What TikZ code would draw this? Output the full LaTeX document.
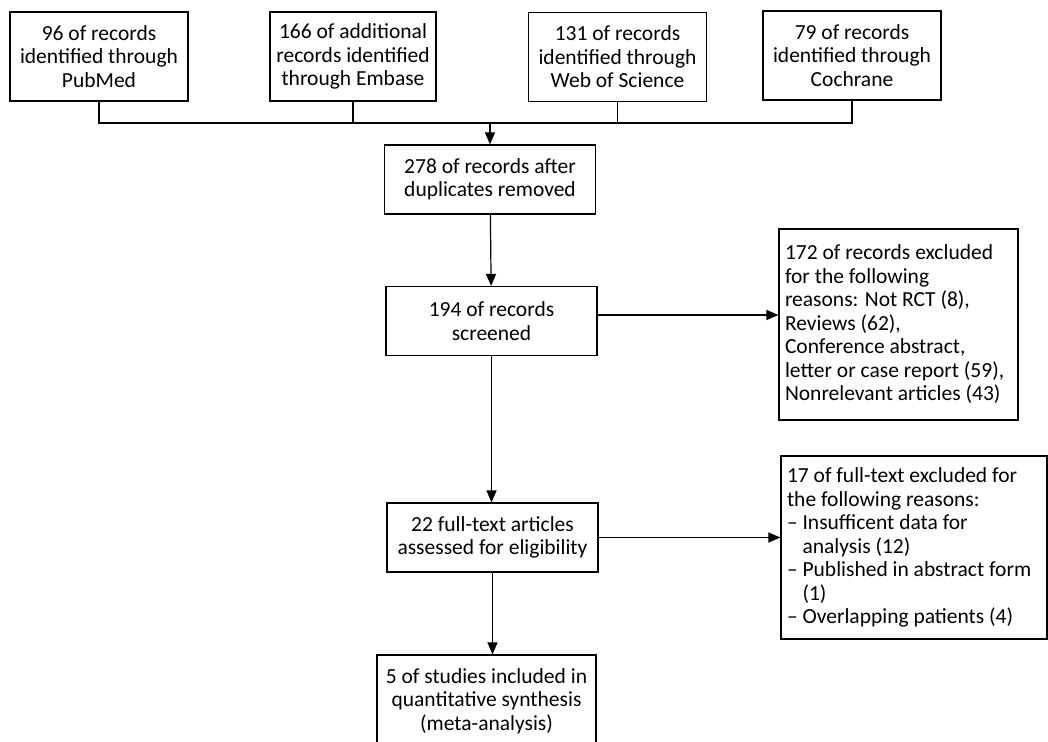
\documentclass[tikz,border=0pt]{standalone}
\usepackage{fontspec}
\setmainfont{Carlito}
\usetikzlibrary{positioning,arrows.meta}

\begin{document}
\begin{tikzpicture}[x=0.5pt,y=-0.5pt,line width=0.6pt,every node/.style = {draw, align=center, shape=rectangle, inner sep=0pt, font=\fontsize{10.75}{11.75}\selectfont},srcbox/.style={minimum width=89pt,minimum height=44.5pt},flowbox/.style={minimum width=105.5pt,minimum height=34.5pt},exclbox/.style={align=flush left,inner xsep=3pt,inner ysep=0pt},arr/.style={-{Triangle[length=6pt,width=5pt]}}]
\useasboundingbox (0,0) rectangle (1048,742);
% sources
\node[srcbox](pubmed) at (99,56.5) {96 of records\\identified through\\PubMed};
\node[srcbox,minimum width=83pt](embase) at (353,56.5) {166 of additional\\records identified\\through Embase};
\node[srcbox](wos) at (617.5,57) {131 of records\\identified through\\Web of Science};
\node[srcbox](cochrane) at (852,55.5) {79 of records\\identified through\\Cochrane};
% main flow
\node[flowbox](dedup) at (490,179.5) {278 of records after\\duplicates removed};
\node[flowbox](screened) at (491.5,321) {194 of records\\screened};
\node[flowbox](fulltext) at (492.5,537.5) {22 full-text articles\\assessed for eligibility};
\node[minimum width=109.5pt,minimum height=46pt](included) at (486.5,701) {5 of studies included in\\quantitative synthesis\\(meta-analysis)};
% exclusions
\node[exclbox,text width=113.5pt,minimum height=95.5pt](excl) at (898.5,324.5) {172 of records excluded\\for the following\\reasons: Not RCT (8),\\Reviews (62),\\Conference abstract,\\letter or case report (59),\\Nonrelevant articles (43)};
\node[exclbox,text width=127pt,minimum height=91.5pt](exclft) at (914,547.5) {17 of full-text excluded for\\the following reasons:\\-- Insufficent data for\\\phantom{-- }analysis (12)\\-- Published in abstract form\\\phantom{-- }(1)\\-- Overlapping patients (4)};
\coordinate (bus) at (490,123);
\draw (pubmed.south) -- (pubmed.south |- bus) -- (cochrane.south |- bus) -- (cochrane.south);
\draw (embase.south) -- (embase.south |- bus);
\draw (wos.south) -- (wos.south |- bus);
\draw[arr] (bus) -- (dedup);
\draw[arr] (dedup) -- (screened);
\draw[arr] ([yshift=3pt]screened.east) -- ([yshift=3pt]screened.east -| excl.west);
\draw[arr] (screened.south) -- (screened.south |- fulltext.north);
\draw[arr] (fulltext) -- (fulltext -| exclft.west);
\draw[arr] (fulltext.south) -- (fulltext.south |- included.north);
\end{tikzpicture}
\end{document}
